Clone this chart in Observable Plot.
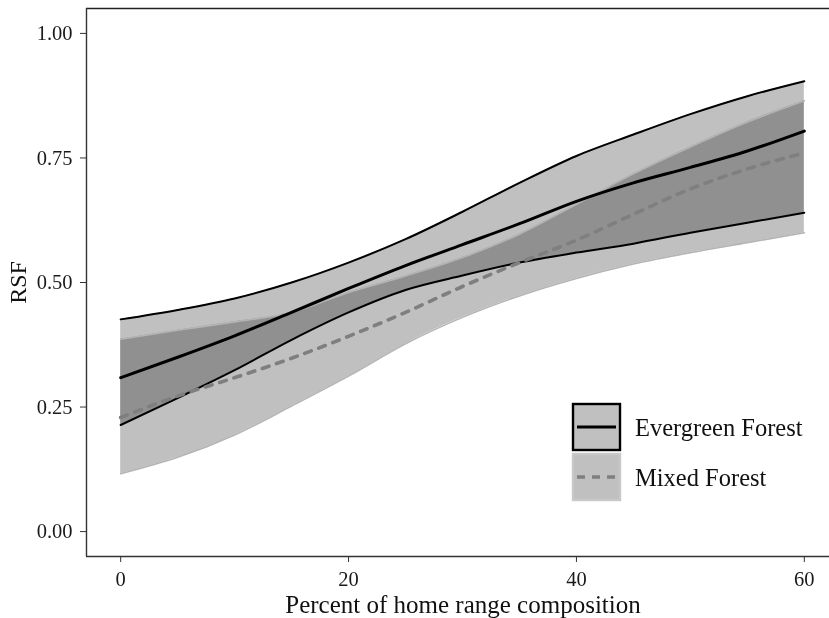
<!DOCTYPE html>
<html><head><meta charset="utf-8">
<script src="https://cdn.jsdelivr.net/npm/d3@7"></script>
<script src="https://cdn.jsdelivr.net/npm/@observablehq/plot@0.6"></script>
<style>
body{margin:0;background:#fff;overflow:hidden;}
#wrap{position:relative;width:829px;height:618px;overflow:hidden;background:#fff;}
#wrap > svg:first-child{max-width:none !important;}
#legend{position:absolute;left:571px;top:402px;}
</style></head><body>
<div id="wrap"></div>
<script>
// Percent of home range composition
const xs = [0, 5, 10, 15, 20, 25, 30, 35, 40, 45, 50, 55, 60];
// Evergreen Forest
const evergreenUpper = [0.426, 0.445, 0.468, 0.500, 0.540, 0.587, 0.642, 0.700, 0.754, 0.797, 0.838, 0.874, 0.904];
const evergreenMean  = [0.309, 0.350, 0.393, 0.440, 0.488, 0.534, 0.576, 0.618, 0.663, 0.700, 0.731, 0.764, 0.804];
const evergreenLower = [0.214, 0.268, 0.324, 0.385, 0.440, 0.485, 0.514, 0.540, 0.560, 0.578, 0.600, 0.620, 0.640];
// Mixed Forest
const mixedUpper = [0.386, 0.404, 0.421, 0.440, 0.480, 0.513, 0.550, 0.597, 0.657, 0.718, 0.772, 0.822, 0.865];
const mixedMean  = [0.229, 0.272, 0.309, 0.348, 0.392, 0.440, 0.492, 0.540, 0.585, 0.637, 0.688, 0.728, 0.760];
const mixedLower = [0.116, 0.149, 0.194, 0.252, 0.312, 0.377, 0.430, 0.473, 0.508, 0.537, 0.560, 0.580, 0.600];

const xTicks = [0, 20, 40, 60];
const yTicks = [0, 0.25, 0.5, 0.75, 1];
const xDomain = [-3, 63];
const yDomain = [-0.05, 1.05];
const seriesNames = ["Evergreen Forest", "Mixed Forest"];
const xTitle = "Percent of home range composition";
const yTitle = "RSF";

const rows = xs.map((x, i) => ({
  x,
  eu: evergreenUpper[i], em: evergreenMean[i], el: evergreenLower[i],
  mu: mixedUpper[i], mm: mixedMean[i], ml: mixedLower[i]
}));

const curve = "monotone-x";
const ribbonFill = "#c0c0c0";

const chart = Plot.plot({
  width: 829, height: 618,
  marginLeft: 86, marginRight: 0, marginTop: 8, marginBottom: 62,
  style: {fontFamily: "'Liberation Serif', 'Times New Roman', serif", fontSize: "20.5px", color: "#1a1a1a", background: "white", maxWidth: "none"},
  x: {domain: xDomain, range: [86, 838]},
  y: {domain: yDomain},
  marks: [
    Plot.areaY(rows, {x: "x", y1: "ml", y2: "mu", fill: ribbonFill, curve, mixBlendMode: "multiply"}),
    Plot.areaY(rows, {x: "x", y1: "el", y2: "eu", fill: ribbonFill, curve, mixBlendMode: "multiply"}),
    Plot.line(rows, {x: "x", y: "mu", stroke: "#b4b4b4", strokeWidth: 1.6, curve}),
    Plot.line(rows, {x: "x", y: "ml", stroke: "#b4b4b4", strokeWidth: 1.6, curve}),
    Plot.line(rows, {x: "x", y: "eu", stroke: "#000", strokeWidth: 2, curve}),
    Plot.line(rows, {x: "x", y: "el", stroke: "#000", strokeWidth: 2, curve}),
    Plot.line(rows, {x: "x", y: "em", stroke: "#000", strokeWidth: 3, curve}),
    Plot.line(rows, {x: "x", y: "mm", stroke: "#7f7f7f", strokeWidth: 3.6, strokeDasharray: "7,8", curve}),
    Plot.ruleY([yDomain[1]], {stroke: "#222", strokeWidth: 1.4}),
    Plot.ruleY([yDomain[0]], {stroke: "#333", strokeWidth: 1.4}),
    Plot.ruleX([xDomain[0]], {stroke: "#333", strokeWidth: 1.4}),
    Plot.axisX({ticks: xTicks, tickSize: 6, tickPadding: 9, label: null, stroke: "#333"}),
    Plot.axisY({ticks: yTicks, tickFormat: d3.format(".2f"), tickSize: 6, tickPadding: 8, label: null, stroke: "#333"}),
    Plot.text([xTitle], {frameAnchor: "bottom", lineAnchor: "middle", dx: 5, dy: 48, fontSize: 25, fill: "#111"}),
    Plot.text([yTitle], {frameAnchor: "left", textAnchor: "middle", lineAnchor: "middle", rotate: -90, dx: -68, fontSize: 24, fill: "#111"})
  ]
});
const wrap = document.getElementById("wrap");
wrap.appendChild(chart);

// legend
const lg = d3.select(wrap).append("svg").attr("id", "legend").attr("width", 258).attr("height", 102)
  .style("font-family", "'Liberation Serif', 'Times New Roman', serif");
const keys = [
  {name: seriesNames[0], border: "#000", line: "#000", dash: null, lw: 3.2},
  {name: seriesNames[1], border: "#c8c8c8", line: "#7f7f7f", dash: "8,7", lw: 3.4}
];
keys.forEach((k, i) => {
  const g = lg.append("g").attr("transform", `translate(0,${i * 50})`);
  g.append("rect").attr("x", 2).attr("y", 2).attr("width", 47).attr("height", 46)
    .attr("fill", ribbonFill).attr("stroke", k.border).attr("stroke-width", 2.4);
  g.append("line").attr("x1", 6).attr("x2", 45).attr("y1", 25).attr("y2", 25)
    .attr("stroke", k.line).attr("stroke-width", k.lw).attr("stroke-dasharray", k.dash);
  g.append("text").attr("x", 64).attr("y", 25).attr("dy", "0.35em")
    .attr("font-size", 24.5).attr("fill", "#111").text(k.name);
});
</script>
</body></html>
